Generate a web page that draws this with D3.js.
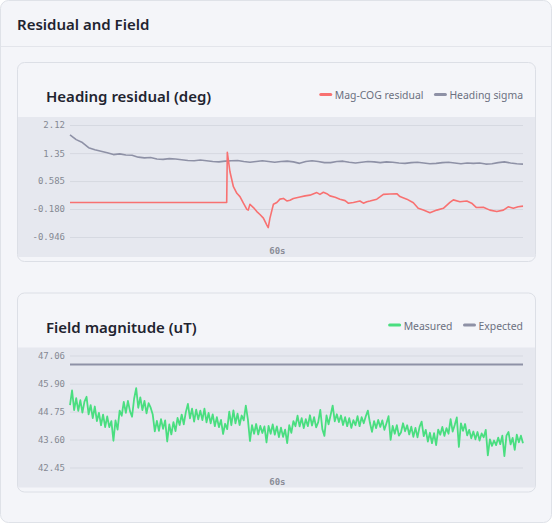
<!DOCTYPE html>
<html>
<head>
<meta charset="utf-8">
<script src="https://cdn.jsdelivr.net/npm/d3@7"></script>
<style>
  html, body { margin: 0; padding: 0; background: #ffffff; }
  svg { display: block; }
</style>
</head>
<body>
<div id="chart"></div>
<script>
// Heading residual panel
const residualTimes = [0, 45.45, 45.63, 46.4, 47.4, 48.4, 49.3, 50.3, 51.3, 51.7, 52.2, 53.2, 54.2, 55.1, 56.1, 57.1, 57.5,
  58.0, 59.0, 60.0, 60.9, 61.9, 62.9, 63.8, 64.8, 66.7, 68.2, 69.6, 71.6, 72.5, 73.5, 74.5, 75.4, 76.9, 78.3, 79.8,
  80.7, 82.2, 84.1, 85.1, 86.1, 87.0, 89.0, 89.9, 90.9, 92.8, 94.8, 95.7, 97.7, 99.6, 101.0, 102.5, 104.4, 106.4,
  108.3, 110.2, 111.2, 113.1, 115.1, 116.5, 117.9, 119.9, 121.8, 123.8, 125.7, 127.1, 128.6, 130.0, 131.4];
const residualValues = [0, 0, 1.37, 0.84, 0.43, 0.25, 0.16, -0.02, -0.19, -0.21, -0.05, -0.14, -0.25, -0.33, -0.43, -0.62, -0.69,
  -0.43, -0.05, 0.00, 0.09, 0.11, 0.04, 0.06, 0.11, 0.15, 0.18, 0.20, 0.27, 0.22, 0.28, 0.24, 0.18, 0.14, 0.09, 0.05,
  -0.02, 0.00, 0.04, -0.02, 0.02, 0.04, 0.09, 0.15, 0.22, 0.23, 0.24, 0.16, 0.09, -0.01, -0.16, -0.21, -0.28, -0.21,
  -0.16, 0.00, 0.07, 0.02, 0.04, -0.02, -0.14, -0.13, -0.21, -0.25, -0.21, -0.12, -0.16, -0.12, -0.10];

const sigmaStep = 1.8; // seconds between sigma samples
const sigmaValues = [1.85, 1.72, 1.64, 1.50, 1.44, 1.40, 1.36, 1.31, 1.33, 1.30,
  1.29, 1.24, 1.22, 1.23, 1.19, 1.18, 1.20, 1.19, 1.17, 1.15,
  1.14, 1.16, 1.14, 1.12, 1.11, 1.13, 1.14, 1.15, 1.12, 1.10,
  1.12, 1.14, 1.12, 1.10, 1.12, 1.13, 1.11, 1.07, 1.12, 1.14,
  1.12, 1.09, 1.09, 1.12, 1.13, 1.10, 1.08, 1.10, 1.12, 1.11,
  1.09, 1.11, 1.10, 1.08, 1.07, 1.09, 1.10, 1.08, 1.06, 1.07,
  1.09, 1.10, 1.08, 1.06, 1.08, 1.07, 1.08, 1.05, 1.06, 1.09,
  1.11, 1.08, 1.06, 1.05];

const residualTicks = [2.12, 1.35, 0.585, -0.180, -0.946];
const residualTickLabels = ["2.12", "1.35", "0.585", "-0.180", "-0.946"];

// Field magnitude panel
const fieldStep = 0.6; // seconds between magnitude samples
const measuredValues = [
  45.02, 45.62, 44.81, 45.30, 44.78, 45.22, 44.71, 45.16, 45.36, 44.64,
  45.02, 44.48, 44.96, 44.36, 44.70, 44.19, 44.63, 44.11, 44.55, 44.11,
  44.36, 43.55, 44.39, 44.01, 44.79, 44.58, 45.15, 44.70, 45.19, 44.77,
  44.54, 45.28, 45.72, 44.91, 45.34, 44.81, 45.19, 44.68, 45.10, 44.91,
  44.63, 43.94, 44.37, 43.96, 44.44, 44.04, 44.39, 43.52, 44.22, 43.81,
  44.32, 43.95, 44.49, 44.20, 44.63, 44.23, 44.73, 45.07, 44.47, 44.87,
  44.34, 44.83, 44.43, 44.79, 44.40, 44.87, 44.31, 44.70, 44.27, 44.64,
  44.15, 44.52, 44.11, 44.41, 43.83, 44.25, 44.03, 44.75, 44.19, 44.80,
  44.27, 44.67, 44.20, 44.59, 44.39, 45.00, 44.43, 43.54, 44.19, 43.84,
  44.24, 43.81, 44.16, 43.87, 44.14, 43.48, 44.16, 43.84, 44.22, 43.80,
  44.14, 43.70, 44.09, 43.71, 44.01, 43.45, 44.19, 43.88, 44.36, 44.15,
  44.58, 44.14, 44.48, 44.07, 44.44, 44.15, 44.60, 44.18, 44.52, 44.10,
  44.32, 44.82, 44.03, 43.75, 44.59, 44.23, 44.61, 45.00, 44.35, 44.64,
  44.32, 44.59, 44.20, 44.52, 44.15, 44.48, 44.08, 44.40, 44.19, 44.56,
  44.15, 44.52, 44.27, 44.56, 44.79, 44.29, 43.92, 44.36, 44.07, 44.41,
  44.12, 44.39, 44.00, 44.27, 44.56, 43.59, 44.16, 43.84, 44.19, 43.76,
  43.89, 44.27, 43.94, 44.19, 43.81, 44.13, 43.71, 44.08, 43.69, 44.12,
  44.34, 43.74, 44.00, 43.52, 43.88, 43.45, 43.86, 43.37, 44.01, 43.80,
  44.12, 43.75, 44.07, 43.84, 44.44, 43.93, 44.20, 44.51, 43.30, 44.27,
  43.96, 44.24, 43.77, 44.00, 43.65, 43.93, 43.61, 43.91, 43.56, 43.85,
  43.69, 44.00, 42.95, 43.61, 43.34, 43.56, 43.37, 43.68, 43.41, 43.76,
  42.92, 43.76, 43.91, 43.40, 43.67, 43.18, 43.80, 43.49, 43.76, 43.45];
const expectedTimes = [0, 131.4];
const expectedValues = [46.69, 46.69];

const fieldTicks = [47.06, 45.90, 44.75, 43.60, 42.45];
const fieldTickLabels = ["47.06", "45.90", "44.75", "43.60", "42.45"];

const timeTicks = [60];

const width = 553, height = 524;
const plotLeft = 70, plotRight = 523;

const svg = d3.select("#chart").append("svg")
  .attr("width", width)
  .attr("height", height);

// outer card
svg.append("rect")
  .attr("x", 0.5).attr("y", 0.5)
  .attr("width", 551).attr("height", 522)
  .attr("rx", 8)
  .attr("fill", "#f4f5f9")
  .attr("stroke", "#dfe2e8");

svg.append("line")
  .attr("x1", 1).attr("x2", 551)
  .attr("y1", 46.5).attr("y2", 46.5)
  .attr("stroke", "#e3e5eb");

svg.append("text")
  .attr("x", 17).attr("y", 30)
  .attr("font-family", "'Noto Sans', sans-serif")
  .attr("font-size", 15)
  .attr("font-weight", 600)
  .attr("fill", "#1f2430")
  .text("Residual and Field");

function drawPanel(top, opts) {
  const g = svg.append("g").attr("transform", `translate(0,${top})`);
  const cardX = 17, cardW = 518, cardH = 199;

  g.append("rect")
    .attr("x", cardX + 0.5).attr("y", 0.5)
    .attr("width", cardW).attr("height", cardH)
    .attr("rx", 7)
    .attr("fill", "#f4f5f9")
    .attr("stroke", "#dcdfe6");

  // plot band
  g.append("rect")
    .attr("x", cardX + 1).attr("y", 55)
    .attr("width", cardW - 1).attr("height", 140)
    .attr("fill", "#e6e8ef");

  g.append("text")
    .attr("x", 46).attr("y", 40)
    .attr("font-family", "'Noto Sans', sans-serif")
    .attr("font-size", 15)
    .attr("font-weight", 600)
    .attr("fill", "#1f2430")
    .text(opts.title);

  // legend, right aligned
  let lx = plotRight;
  const items = opts.legend.slice().reverse();
  items.forEach(item => {
    const t = g.append("text")
      .attr("y", 37)
      .attr("font-family", "'Noto Sans', sans-serif")
      .attr("font-size", 10.4)
      .attr("fill", "#6b7080")
      .text(item.label);
    const w = t.node().getComputedTextLength();
    t.attr("x", lx - w);
    g.append("line")
      .attr("x1", lx - w - 14).attr("x2", lx - w - 4)
      .attr("y1", 32.5).attr("y2", 32.5)
      .attr("stroke", item.color)
      .attr("stroke-width", 3)
      .attr("stroke-linecap", "round");
    lx = lx - w - 14 - 12;
  });

  const x = d3.scaleLinear()
    .domain([0, 131.4])
    .range([plotLeft, plotRight]);

  const y = d3.scaleLinear()
    .domain(opts.domain)
    .range([175, 63]);

  // gridlines
  g.append("g")
    .selectAll("line")
    .data(opts.ticks)
    .join("line")
    .attr("x1", plotLeft).attr("x2", plotRight)
    .attr("y1", d => y(d) + 0.5).attr("y2", d => y(d) + 0.5)
    .attr("stroke", "#d6d9e1");

  const yAxis = g.append("g")
    .attr("transform", `translate(${plotLeft},0)`)
    .call(d3.axisLeft(y)
      .tickValues(opts.ticks)
      .tickFormat((d, i) => opts.tickLabels[i])
      .tickSize(0)
      .tickPadding(5));
  yAxis.select(".domain").remove();
  yAxis.selectAll("text")
    .attr("font-family", "'DejaVu Sans Mono', monospace")
    .attr("font-size", 9)
    .attr("fill", "#858893");

  const xAxis = g.append("g")
    .attr("transform", "translate(0,183)")
    .call(d3.axisBottom(x)
      .tickValues(timeTicks)
      .tickFormat(d => d + "s")
      .tickSize(0)
      .tickPadding(3));
  xAxis.select(".domain").remove();
  xAxis.selectAll("text")
    .attr("font-family", "'DejaVu Sans Mono', monospace")
    .attr("font-size", 9)
    .attr("font-weight", "bold")
    .attr("fill", "#8a8d97");

  opts.series.forEach(s => {
    g.append("path")
      .datum(s.values.map((v, i) => [s.times[i], v]))
      .attr("fill", "none")
      .attr("stroke", s.color)
      .attr("stroke-width", s.width)
      .attr("stroke-linejoin", "round")
      .attr("d", d3.line()
        .x(d => x(d[0]))
        .y(d => y(d[1])));
  });
}

const red = "#f87171", slate = "#8e91a6", green = "#4ade80";

drawPanel(62, {
  title: "Heading residual (deg)",
  legend: [{ label: "Mag-COG residual", color: red }, { label: "Heading sigma", color: slate }],
  domain: [-0.946, 2.12],
  ticks: residualTicks,
  tickLabels: residualTickLabels,
  series: [
    { times: sigmaValues.map((v, i) => i * sigmaStep), values: sigmaValues, color: slate, width: 1.6 },
    { times: residualTimes, values: residualValues, color: red, width: 1.6 }
  ]
});

drawPanel(292.5, {
  title: "Field magnitude (uT)",
  legend: [{ label: "Measured", color: green }, { label: "Expected", color: slate }],
  domain: [42.45, 47.06],
  ticks: fieldTicks,
  tickLabels: fieldTickLabels,
  series: [
    { times: expectedTimes, values: expectedValues, color: slate, width: 2 },
    { times: measuredValues.map((v, i) => i * fieldStep), values: measuredValues, color: green, width: 1.8 }
  ]
});
</script>
</body>
</html>
